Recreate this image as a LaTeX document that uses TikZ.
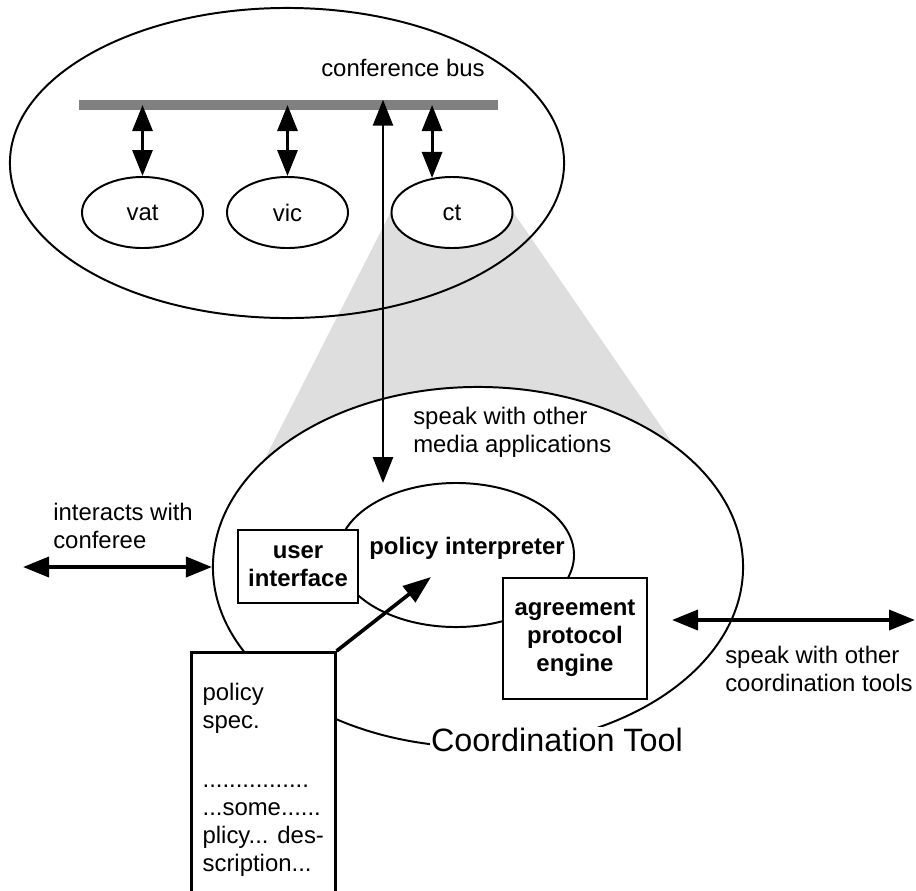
\documentclass[tikz,border=0pt]{standalone}
\usepackage{fontspec}
\setmainfont{Liberation Sans}
\usepackage{tikz}
\usetikzlibrary{shapes.geometric, arrows.meta, backgrounds}

\definecolor{busgray}{gray}{0.5}
\definecolor{zoomgray}{gray}{0.87}

\begin{document}
\begin{tikzpicture}[
            x=0.025cm, y=-0.025cm, % one unit is one pixel of the layout
            every node/.style={font=\fontsize{17}{20}\selectfont},
            blob/.style={ellipse, draw, line width=1.4pt, inner sep=0pt}, % ellipses
            appnode/.style={blob, fill=white, minimum width=3.025cm, minimum height=1.775cm},
            module/.style={draw, fill=white, line width=1.8pt, inner sep=0pt, align=center,
                           font=\fontsize{17}{20}\selectfont\bfseries}, % boxes inside the tool
            note/.style={align=left, anchor=north west, inner sep=0pt}, % free text
            dblarrow/.style={arrows={Triangle[length=0.65cm,width=0.5cm]-Triangle[length=0.65cm,width=0.5cm]}, line width=2.2pt},
            sglarrow/.style={arrows={-Triangle[length=0.7cm,width=0.5cm]}, line width=2.6pt}
            ]

        \useasboundingbox (0,0) rectangle (916,890);

        % conference with its applications
        \node[blob, minimum width=13.85cm, minimum height=7.75cm] (conf) at (287,163) {};
        \node[fill=busgray, minimum width=10.475cm, minimum height=0.25cm, inner sep=0pt] (bus) at (288.5,105) {};
        \node (buslabel) at (403,68) {conference bus};
        \node[appnode] (vat) at (142.5,212.5) {vat};
        \node[appnode] (vic) at (287.5,212.5) {vic};
        \node[appnode] (ct) at (452,212.5) {ct};

        \foreach \app in {vat,vic}
            \draw[dblarrow] (\app.north |- bus.center) -- (\app.north);
        \draw[dblarrow] (ct.120 |- bus.center) -- (ct.120);

        % zoom into ct
        \begin{scope}[on background layer]
            \fill[zoomgray] (ct.west) -- (ct.east) -- (698,480) -- (254,480) -- cycle;
        \end{scope}

        % the coordination tool
        \node[blob, fill=white, minimum width=13.25cm, minimum height=9cm] (tool) at (478,567) {};
        \node[blob, minimum width=5.9cm, minimum height=3.6cm] (interp) at (456,555) {};
        \node[font=\fontsize{17}{20}\selectfont\bfseries] (interplabel) at (467,548) {policy interpreter};
        \node[module, minimum width=3cm, minimum height=1.825cm] (ui) at (298,566.5) {user\\interface};
        \node[module, minimum width=3.6cm, minimum height=3.025cm] (ape) at (575,638.5) {agreement\\protocol\\engine};
        \node[fill=white, inner sep=1pt, font=\fontsize{23}{27}\selectfont] (toollabel) at (557,740) {Coordination Tool};

        \node[draw, fill=white, line width=1.8pt, anchor=north west, minimum width=3.6cm,
              inner xsep=0pt, inner ysep=0.76cm, align=left] (spec) at (190,651)
              {policy\\spec.\\[22pt]................\\...some......\\plicy... des-\\scription...};

        % texts
        \node[note] (medianote) at (413,407) {speak with other\\media applications};
        \node[note] (confnote) at (53,503) {interacts with\\conferee};
        \node[note] (coordnote) at (725,646) {speak with other\\coordination tools};

        % connectors
        \coordinate (mediain) at (383,483);
        \coordinate (spectip) at (431,577);
        \coordinate (conferee) at (23,567);
        \coordinate (otherl) at (672,620);
        \coordinate (otherr) at (915,620);

        \draw[dblarrow, line width=1.9pt] (mediain |- bus.north) -- (mediain);
        \draw[sglarrow] (spec.north east) -- (spectip);
        \draw[dblarrow, line width=2.6pt] (conferee) -- (tool.west);
        \draw[dblarrow, line width=2.6pt] (otherl) -- (otherr);

\end{tikzpicture}
\end{document}
